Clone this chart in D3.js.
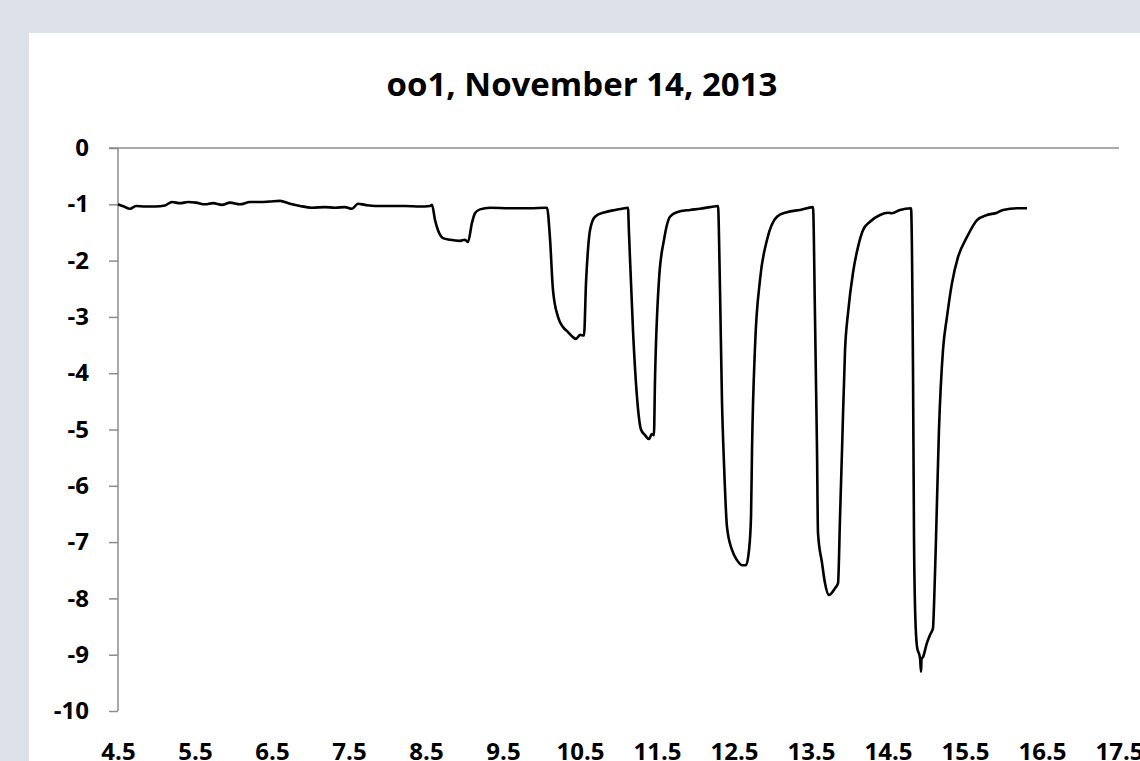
<!DOCTYPE html>
<html lang="en">
<head>
  <meta charset="UTF-8">
  <title>oo1, November 14, 2013</title>
  <script src="https://d3js.org/d3.v7.min.js"></script>
  <style>
    body {
      margin: 0;
      background-color: #dde2ea;
      overflow: hidden;
    }
    .axis text {
      font: bold 24px "Open Sans", sans-serif;
      fill: #000000;
    }
    .axis path, .axis line {
      stroke: #8c8c8c;
      stroke-width: 1.5px;
    }
    .trace {
      fill: none;
      stroke: #000000;
      stroke-width: 2.6px;
      stroke-linejoin: round;
    }
  </style>
</head>
<body>
  <svg id="chart" width="1140" height="761"></svg>

  <script>
    // time (x) and reading (y)
    const xs = [
      4.500, 4.578, 4.656, 4.734, 4.851, 4.981, 5.110, 5.201, 5.305, 5.409,
      5.513, 5.630, 5.734, 5.851, 5.955, 6.084, 6.214, 6.344, 6.474, 6.604,
      6.734, 6.864, 7.019, 7.188, 7.318, 7.448, 7.539, 7.617, 7.708, 7.838,
      8.032, 8.227, 8.422, 8.552, 8.578, 8.617, 8.656, 8.721, 8.812, 8.942,
      9.006, 9.045, 9.097, 9.136, 9.201, 9.331, 9.591, 9.851, 10.058,
      10.071, 10.110, 10.149, 10.214, 10.279, 10.344, 10.409, 10.448, 10.500, 10.552,
      10.578, 10.604, 10.630, 10.695, 10.825, 10.955, 11.084, 11.123,
      11.136, 11.188, 11.240, 11.292, 11.344, 11.396, 11.434, 11.460, 11.474, 11.526,
      11.591, 11.669, 11.760, 11.929, 12.058, 12.188, 12.292,
      12.318, 12.344, 12.370, 12.409, 12.474, 12.539, 12.604, 12.656, 12.695, 12.721,
      12.734, 12.773, 12.838, 12.929, 13.058, 13.188, 13.357, 13.526,
      13.552, 13.578, 13.591, 13.643, 13.682, 13.734, 13.812, 13.851, 13.877, 13.903,
      13.942, 13.981, 14.045, 14.110, 14.175, 14.266, 14.396, 14.500, 14.552, 14.656, 14.799,
      14.825, 14.838, 14.851, 14.877, 14.916, 14.929, 14.935, 14.955, 15.006, 15.045,
      15.084, 15.097, 15.123, 15.162, 15.214, 15.266, 15.331, 15.409, 15.526, 15.656,
      15.786, 15.916, 15.994, 16.175, 16.305
    ];
    const ys = [
      -1.00, -1.04, -1.08, -1.03, -1.04, -1.04, -1.02, -0.96, -0.98, -0.96,
      -0.97, -1.00, -0.98, -1.01, -0.97, -1.00, -0.96, -0.96, -0.95, -0.94,
      -0.99, -1.03, -1.06, -1.05, -1.06, -1.05, -1.08, -0.99, -1.01, -1.03,
      -1.03, -1.03, -1.04, -1.03, -1.01, -1.28, -1.46, -1.60, -1.63, -1.65,
      -1.63, -1.67, -1.33, -1.16, -1.09, -1.06, -1.07, -1.07, -1.06,
      -1.06, -1.60, -2.52, -3.00, -3.18, -3.27, -3.36, -3.39, -3.32, -3.33,
      -2.40, -1.80, -1.46, -1.22, -1.14, -1.10, -1.07, -1.06,
      -1.50, -3.23, -4.42, -5.00, -5.10, -5.17, -5.08, -5.10, -4.12, -2.34,
      -1.63, -1.22, -1.14, -1.10, -1.08, -1.05, -1.03,
      -2.50, -4.50, -5.60, -6.73, -7.14, -7.32, -7.41, -7.41, -7.14, -6.55,
      -5.36, -3.53, -2.34, -1.63, -1.22, -1.14, -1.10, -1.05,
      -3.00, -5.36, -6.84, -7.37, -7.73, -7.94, -7.82, -7.73, -6.55, -5.36,
      -3.59, -2.93, -2.22, -1.76, -1.46, -1.31, -1.19, -1.15, -1.16, -1.10, -1.07,
      -4.00, -6.96, -8.15, -8.86, -9.06, -9.30, -9.08, -9.04, -8.79, -8.65,
      -8.53, -8.15, -6.96, -5.00, -3.59, -3.00, -2.40, -1.94, -1.58, -1.28,
      -1.19, -1.15, -1.10, -1.07, -1.07
    ];

    const xTicks = [4.5, 5.5, 6.5, 7.5, 8.5, 9.5, 10.5, 11.5, 12.5, 13.5, 14.5, 15.5, 16.5, 17.5];
    const yTicks = [0, -1, -2, -3, -4, -5, -6, -7, -8, -9, -10];

    const svg = d3.select("#chart");

    // white chart panel
    svg.append("rect")
       .attr("x", 29)
       .attr("y", 33)
       .attr("width", 1140)
       .attr("height", 761)
       .attr("fill", "#ffffff");

    const x = d3.scaleLinear().domain([4.5, 17.5]).range([118, 1119]);
    const y = d3.scaleLinear().domain([0, -10]).range([148, 711]);

    svg.append("text")
       .attr("x", 582)
       .attr("y", 96)
       .attr("text-anchor", "middle")
       .style("font", "bold 33px 'Open Sans', sans-serif")
       .text("oo1, November 14, 2013");

    // y axis with small outer ticks, plain hyphen for the minus sign
    const yAxis = svg.append("g")
       .attr("class", "axis")
       .attr("transform", "translate(118,0)")
       .call(d3.axisLeft(y).tickValues(yTicks).tickSize(9).tickSizeOuter(0).tickPadding(20)
               .tickFormat(d => String(d)));
    yAxis.select(".domain").remove();
    yAxis.append("line")
         .attr("x1", 0).attr("x2", 0)
         .attr("y1", y(0)).attr("y2", y(-10));

    // horizontal axis line at zero
    svg.append("g")
       .attr("class", "axis")
       .append("line")
       .attr("x1", 109).attr("x2", x(17.5))
       .attr("y1", y(0)).attr("y2", y(0));

    // x labels sit low, below the plot (cut by the frame as in the original)
    const xAxis = svg.append("g")
       .attr("class", "axis")
       .attr("transform", "translate(0,741)")
       .call(d3.axisBottom(x).tickValues(xTicks).tickSize(0).tickPadding(2)
               .tickFormat(d3.format(".1f")));
    xAxis.select(".domain").remove();
    xAxis.selectAll("line").remove();

    const pts = xs.map((v, i) => [v, ys[i]]);
    const line = d3.line()
                   .x(d => x(d[0]))
                   .y(d => y(d[1]))
                   .curve(d3.curveMonotoneX);

    svg.append("path")
       .attr("class", "trace")
       .attr("d", line(pts));
  </script>
</body>
</html>
